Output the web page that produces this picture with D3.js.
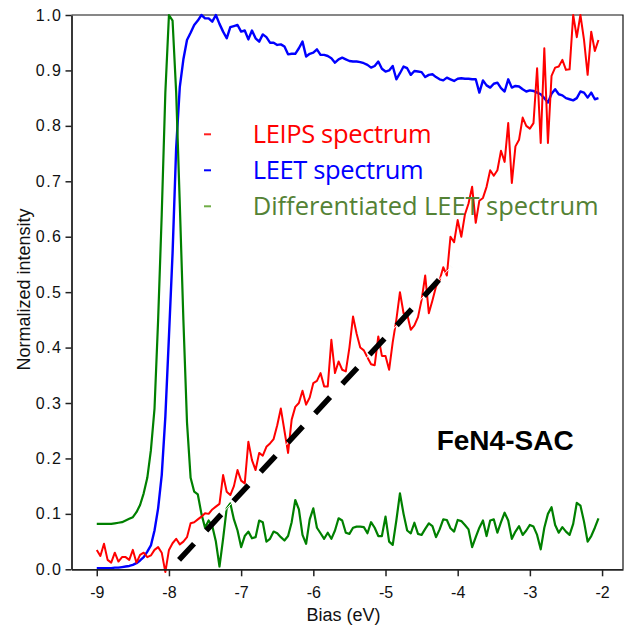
<!DOCTYPE html>
<html>
<head>
<meta charset="utf-8">
<script src="https://cdn.jsdelivr.net/npm/d3@7"></script>
<style>
  body { margin: 0; background: #fff; }
  svg { display: block; }
</style>
</head>
<body>
<svg id="chart"></svg>
<script>
// bias grid, -9.00 ... -2.05 eV in 0.05 steps
var biasStart = -9, biasStep = 0.05;

// LEIPS spectrum (red)
var leips = [
  0.035, 0.024, 0.046, 0.017, 0.012, 0.030, 0.014, 0.022, 0.022, 0.017,
  0.035, 0.012, 0.026, 0.030, 0.022, 0.025, 0.035, 0.040, 0.030, -0.005,
  0.035, 0.047, 0.055, 0.045, 0.050, 0.058, 0.083, 0.085, 0.090, 0.095,
  0.101, 0.100, 0.108, 0.113, 0.118, 0.170, 0.140, 0.134, 0.150, 0.179,
  0.160, 0.155, 0.230, 0.197, 0.179, 0.210, 0.205, 0.221, 0.227, 0.235,
  0.260, 0.290, 0.250, 0.210, 0.270, 0.293, 0.300, 0.322, 0.297, 0.310,
  0.336, 0.340, 0.354, 0.330, 0.330, 0.414, 0.354, 0.375, 0.360, 0.357,
  0.400, 0.456, 0.425, 0.400, 0.395, 0.382, 0.370, 0.368, 0.420, 0.385,
  0.385, 0.360, 0.410, 0.450, 0.500, 0.462, 0.460, 0.432, 0.440, 0.455,
  0.486, 0.530, 0.462, 0.485, 0.510, 0.522, 0.545, 0.530, 0.600, 0.590,
  0.630, 0.600, 0.640, 0.660, 0.690, 0.625, 0.665, 0.670, 0.690, 0.720,
  0.710, 0.720, 0.755, 0.735, 0.805, 0.697, 0.763, 0.775, 0.815, 0.800,
  0.795, 0.805, 0.904, 0.769, 0.940, 0.769, 0.890, 0.905, 0.907, 0.919,
  0.901, 0.902, 1.000, 0.960, 1.000, 0.955, 0.892, 0.970, 0.935, 0.955
];

// LEET spectrum (blue)
var leet = [
  0.002, 0.002, 0.002, 0.002, 0.002, 0.003, 0.003, 0.004, 0.005, 0.006,
  0.008, 0.011, 0.016, 0.022, 0.032, 0.043, 0.070, 0.110, 0.170, 0.275,
  0.420, 0.570, 0.760, 0.870, 0.920, 0.955, 0.968, 0.982, 0.990, 1.000,
  0.994, 0.994, 0.988, 1.000, 0.984, 0.970, 0.958, 0.978, 0.980, 0.982,
  0.970, 0.972, 0.956, 0.972, 0.958, 0.952, 0.965, 0.960, 0.950, 0.950,
  0.946, 0.947, 0.943, 0.929, 0.930, 0.930, 0.940, 0.952, 0.925, 0.930,
  0.932, 0.938, 0.928, 0.928, 0.926, 0.922, 0.914, 0.920, 0.923, 0.920,
  0.917, 0.916, 0.916, 0.915, 0.913, 0.910, 0.905, 0.908, 0.916, 0.903,
  0.898, 0.900, 0.908, 0.884, 0.895, 0.907, 0.904, 0.892, 0.899, 0.898,
  0.897, 0.888, 0.892, 0.893, 0.888, 0.884, 0.882, 0.887, 0.884, 0.881,
  0.885, 0.886, 0.885, 0.885, 0.884, 0.884, 0.860, 0.882, 0.873, 0.869,
  0.876, 0.878, 0.868, 0.862, 0.884, 0.869, 0.872, 0.871, 0.866, 0.862,
  0.864, 0.863, 0.860, 0.857, 0.850, 0.842, 0.858, 0.866, 0.857, 0.855,
  0.850, 0.848, 0.846, 0.850, 0.862, 0.860, 0.851, 0.860, 0.848, 0.850
];

// differentiated LEET spectrum (green)
var dLeet = [
  0.082, 0.082, 0.082, 0.082, 0.082, 0.083, 0.084, 0.085, 0.088, 0.091,
  0.094, 0.103, 0.116, 0.137, 0.165, 0.215, 0.290, 0.450, 0.640, 0.860,
  1.000, 0.990, 0.860, 0.660, 0.450, 0.265, 0.165, 0.140, 0.135, 0.100,
  0.075, 0.088, 0.078, 0.050, 0.005, 0.055, 0.110, 0.119, 0.090, 0.070,
  0.040, 0.060, 0.068, 0.056, 0.058, 0.088, 0.085, 0.050, 0.055, 0.068,
  0.065, 0.058, 0.052, 0.060, 0.085, 0.125, 0.108, 0.062, 0.046, 0.090,
  0.110, 0.075, 0.065, 0.055, 0.066, 0.055, 0.070, 0.092, 0.088, 0.066,
  0.064, 0.075, 0.077, 0.077, 0.076, 0.065, 0.085, 0.075, 0.060, 0.060,
  0.095, 0.050, 0.044, 0.088, 0.137, 0.100, 0.070, 0.065, 0.084, 0.064,
  0.062, 0.073, 0.083, 0.078, 0.058, 0.072, 0.090, 0.089, 0.074, 0.068,
  0.089, 0.087, 0.080, 0.072, 0.040, 0.058, 0.075, 0.088, 0.060, 0.088,
  0.090, 0.066, 0.085, 0.102, 0.088, 0.055, 0.068, 0.078, 0.062, 0.070,
  0.080, 0.077, 0.062, 0.036, 0.075, 0.100, 0.112, 0.080, 0.066, 0.076,
  0.068, 0.062, 0.082, 0.120, 0.115, 0.086, 0.050, 0.060, 0.075, 0.092
];

// linear onset fit (dashed black)
var fitLine = [[-7.86, 0.017], [-4.09, 0.546]];

var xTicks = [-9, -8, -7, -6, -5, -4, -3, -2];
var yTicks = [0, 0.1, 0.2, 0.3, 0.4, 0.5, 0.6, 0.7, 0.8, 0.9, 1.0];

var legendItems = [
  {label: "LEIPS spectrum", color: "#ff0000", mark: "#ff2020", len: 179},
  {label: "LEET spectrum", color: "#0000ff", mark: "#0000ff", len: 171},
  {label: "Differentiated LEET spectrum", color: "#548235", mark: "#70ad47", len: 346}
];

var width = 629, height = 629;
var margin = {top: 15, right: 6, bottom: 60, left: 71.5};

var svg = d3.select("#chart")
  .attr("width", width)
  .attr("height", height);

var x = d3.scaleLinear()
  .domain([-9.35, -1.71])
  .range([margin.left, width - margin.right]);

var y = d3.scaleLinear()
  .domain([0, 1])
  .range([569.3, margin.top]);

function toPoints(values) {
  return values.map(function(v, i) { return [biasStart + i * biasStep, v]; });
}

var line = d3.line()
  .x(function(d) { return x(d[0]); })
  .y(function(d) { return y(d[1]); });

// frame (top and right)
svg.append("path")
  .attr("d", "M" + x.range()[0] + "," + y(1) + "H" + x.range()[1] + "V" + y(0))
  .attr("fill", "none")
  .attr("stroke", "#111")
  .attr("stroke-width", 1.2);

// curves
svg.append("path")
  .datum(toPoints(leet))
  .attr("d", line)
  .attr("fill", "none")
  .attr("stroke", "#0000ff")
  .attr("stroke-width", 2.4)
  .attr("stroke-linejoin", "round");

svg.append("path")
  .datum(toPoints(dLeet))
  .attr("d", line)
  .attr("fill", "none")
  .attr("stroke", "#008000")
  .attr("stroke-width", 2.2)
  .attr("stroke-linejoin", "round");

svg.append("path")
  .datum(toPoints(leips))
  .attr("d", line)
  .attr("fill", "none")
  .attr("stroke", "#ff0000")
  .attr("stroke-width", 2)
  .attr("stroke-linejoin", "round");

// fit line: thin white hairline under black dashes
svg.append("path")
  .datum(fitLine)
  .attr("d", line)
  .attr("stroke", "#fff")
  .attr("stroke-width", 1);

svg.append("path")
  .datum(fitLine)
  .attr("d", line)
  .attr("stroke", "#000")
  .attr("stroke-width", 5.5)
  .attr("stroke-dasharray", "22,18");

// axes
var xAxis = svg.append("g")
  .attr("transform", "translate(0," + y(0) + ")")
  .call(d3.axisBottom(x)
    .tickValues(xTicks)
    .tickSize(7)
    .tickSizeOuter(0)
    .tickPadding(10)
    .tickFormat(function(d) { return String(d); }));

var yAxis = svg.append("g")
  .attr("transform", "translate(" + margin.left + ",0)")
  .call(d3.axisLeft(y)
    .tickValues(yTicks)
    .tickSize(6)
    .tickSizeOuter(0)
    .tickPadding(3)
    .tickFormat(d3.format(".1f")));

[xAxis, yAxis].forEach(function(g) {
  g.select(".domain").attr("stroke", "#222").attr("stroke-width", 1.8);
  g.selectAll(".tick line").attr("stroke", "#222").attr("stroke-width", 1.5);
  g.selectAll(".tick text")
    .attr("fill", "#111")
    .style("font-family", "'Liberation Sans', Arial, sans-serif")
    .style("font-size", "16px");
});
yAxis.selectAll(".tick text").style("letter-spacing", "1.5px");

// axis titles
svg.append("text")
  .attr("x", 343.5)
  .attr("y", 621)
  .attr("text-anchor", "middle")
  .style("font-family", "'Liberation Sans', Arial, sans-serif")
  .style("font-size", "18px")
  .attr("fill", "#111")
  .text("Bias (eV)");

svg.append("text")
  .attr("transform", "translate(29.5,289.5) rotate(-90)")
  .attr("text-anchor", "middle")
  .style("font-family", "'Liberation Sans', Arial, sans-serif")
  .style("font-size", "18px")
  .attr("fill", "#111")
  .text("Normalized intensity");

// legend
var legend = svg.append("g");
legendItems.forEach(function(d, i) {
  var base = 143.3 + i * 36;
  legend.append("line")
    .attr("x1", 204).attr("x2", 211)
    .attr("y1", base - 9).attr("y2", base - 9)
    .attr("stroke", d.mark)
    .attr("stroke-width", 2);
  legend.append("text")
    .attr("x", 252.7)
    .attr("y", base)
    .attr("textLength", d.len)
    .attr("fill", d.color)
    .style("font-family", "'Open Sans', sans-serif")
    .style("font-size", "25.5px")
    .text(d.label);
});

// sample label
svg.append("text")
  .attr("x", 436.7)
  .attr("y", 450)
  .style("font-family", "'Liberation Sans', Arial, sans-serif")
  .style("font-size", "28px")
  .style("font-weight", "bold")
  .attr("fill", "#000")
  .text("FeN4-SAC");
</script>
</body>
</html>
